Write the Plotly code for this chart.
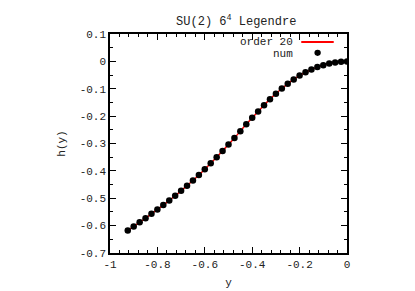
import plotly.graph_objects as go

# data
y_vals = [-0.925, -0.9, -0.875, -0.85, -0.825, -0.8, -0.775, -0.75, -0.725, -0.7,
          -0.675, -0.65, -0.625, -0.6, -0.575, -0.55, -0.525, -0.5, -0.475, -0.45,
          -0.425, -0.4, -0.375, -0.35, -0.325, -0.3, -0.275, -0.25, -0.225, -0.2,
          -0.175, -0.15, -0.125, -0.1, -0.075, -0.05, -0.025, 0.0]
h_num = [-0.618, -0.603, -0.588, -0.573, -0.557, -0.541, -0.525, -0.508, -0.491, -0.473,
         -0.454, -0.435, -0.415, -0.394, -0.372, -0.350, -0.327, -0.304, -0.280, -0.255,
         -0.230, -0.206, -0.183, -0.160, -0.138, -0.118, -0.099, -0.082, -0.066, -0.052,
         -0.040, -0.030, -0.021, -0.014, -0.008, -0.004, -0.001, 0.0]
h_fit = h_num  # order 20 fit follows the numerical points

x_ticks = [-1, -0.8, -0.6, -0.4, -0.2, 0]
x_tick_labels = ["-1", "-0.8", "-0.6", "-0.4", "-0.2", "0"]
y_ticks = [0.1, 0, -0.1, -0.2, -0.3, -0.4, -0.5, -0.6, -0.7]
y_tick_labels = ["0.1", "0", "-0.1", "-0.2", "-0.3", "-0.4", "-0.5", "-0.6", "-0.7"]

FONT = "Liberation Mono, Courier New, monospace"
TXT = "#222222"

fig = go.Figure()
fig.add_trace(go.Scatter(x=y_vals, y=h_fit, mode="lines", line=dict(color="#ff0000", width=1.5, shape="spline"),
                         name="order 20", showlegend=False))
fig.add_trace(go.Scatter(x=y_vals, y=h_num, mode="markers", marker=dict(color="black", size=6.5),
                         name="num", showlegend=False))

axis_common = dict(showline=True, linecolor="black", linewidth=1.5, mirror="allticks",
                   ticks="inside", ticklen=6, tickcolor="black", tickwidth=1,
                   showgrid=False, zeroline=False,
                   tickfont=dict(family=FONT, size=11, color=TXT))
fig.update_xaxes(range=[-1, 0], tickvals=x_ticks, ticktext=x_tick_labels,
                 minor=dict(dtick=0.04, tick0=-1, ticks="inside", ticklen=3, tickcolor="black"),
                 title=dict(text="y", font=dict(family=FONT, size=11, color=TXT), standoff=8),
                 **axis_common)
fig.update_yaxes(range=[-0.7, 0.1], tickvals=y_ticks, ticktext=y_tick_labels,
                 minor=dict(dtick=0.05, tick0=0, ticks="inside", ticklen=3, tickcolor="black"),
                 title=dict(text="h(y)", font=dict(family=FONT, size=11, color=TXT), standoff=12),
                 **axis_common)

# gnuplot-style key
fig.add_annotation(xref="paper", yref="paper", x=0.78, y=0.963, text="order 20", showarrow=False,
                   xanchor="right", yanchor="middle", font=dict(family=FONT, size=11, color=TXT))
fig.add_annotation(xref="paper", yref="paper", x=0.78, y=0.908, text="num", showarrow=False,
                   xanchor="right", yanchor="middle", font=dict(family=FONT, size=11, color=TXT))
fig.add_shape(type="line", xref="paper", yref="paper", x0=0.807, x1=0.944, y0=0.963, y1=0.963,
              line=dict(color="#ff0000", width=2))
fig.add_shape(type="circle", xref="paper", yref="paper", x0=0.876 - 0.0135, x1=0.876 + 0.0135,
              y0=0.914 - 0.014, y1=0.914 + 0.014, fillcolor="black", line=dict(color="black", width=0))

fig.update_layout(
    width=415, height=291,
    margin=dict(l=102, r=76, t=26, b=29),
    paper_bgcolor="white", plot_bgcolor="white",
    font=dict(family=FONT, color=TXT),
    title=dict(text="SU(2) 6<sup>4</sup> Legendre", x=0.55, xanchor="center", y=0.955, yanchor="middle",
               font=dict(family=FONT, size=12, color=TXT)),
    showlegend=False,
)
fig.write_html("out.html")
